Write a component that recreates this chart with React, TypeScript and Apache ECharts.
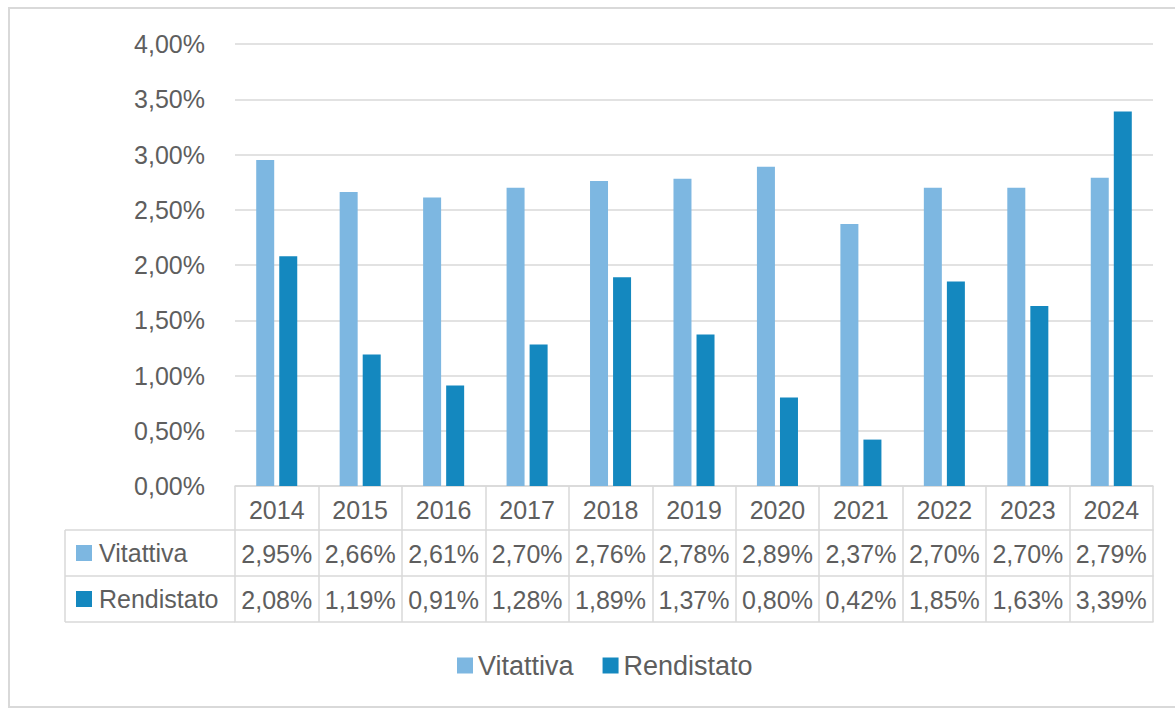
import React, { useEffect, useRef } from "react";
import * as echarts from "echarts";

const years = ["2014", "2015", "2016", "2017", "2018", "2019", "2020", "2021", "2022", "2023", "2024"];
const vitattiva = [2.95, 2.66, 2.61, 2.7, 2.76, 2.78, 2.89, 2.37, 2.7, 2.7, 2.79];
const rendistato = [2.08, 1.19, 0.91, 1.28, 1.89, 1.37, 0.8, 0.42, 1.85, 1.63, 3.39];
const seriesNames = ["Vitattiva", "Rendistato"];
const colors = ["#7DB7E1", "#1488BF"];

const FONT = "Liberation Sans, Arial, sans-serif";
const TEXT = "#5E5E5E";
const LINE = "#D9D9D9";

const fmt = (v: number) => v.toFixed(2).replace(".", ",") + "%";

export default function App() {
  const ref = useRef<HTMLDivElement>(null);
  useEffect(() => {
    if (!ref.current) return;
    const chart = echarts.init(ref.current, undefined, { renderer: "svg" });
    const W = 1175;
    const H = 711;
    const gridLeft = 235;
    const gridRight = 1153;
    const gridTop = 44;
    const gridBottom = 486;
    const rowH = 46;
    const tableLeft = 65;

    const tableAxis = (offset: number, labels: string[] | null, tickLen: number, showTick: boolean) => ({
      type: "category" as const,
      data: years,
      position: "bottom" as const,
      offset,
      axisLine: { show: true, lineStyle: { color: LINE, width: 1.5 } },
      axisTick: { show: showTick, alignWithLabel: false, length: tickLen, lineStyle: { color: LINE, width: 1.5 } },
      axisLabel: {
        show: labels !== null,
        interval: 0,
        margin: 11,
        color: TEXT,
        fontSize: 25,
        fontFamily: FONT,
        formatter: (_v: string, i: number) => (labels ? labels[i] : ""),
      },
      splitLine: { show: false },
    });

    const option = {
      animation: false,
      backgroundColor: "#ffffff",
      grid: {
        left: gridLeft,
        right: W - gridRight,
        top: gridTop,
        bottom: H - gridBottom,
        containLabel: false,
      },
      legend: {
        data: seriesNames,
        bottom: 27,
        left: 452,
        icon: "rect",
        itemWidth: 16,
        itemHeight: 16,
        itemGap: 29,
        textStyle: { color: TEXT, fontSize: 27, fontFamily: FONT },
      },
      xAxis: [
        tableAxis(0, years, rowH - 2, true),
        tableAxis(rowH - 2, vitattiva.map(fmt), rowH, true),
        tableAxis(2 * rowH - 2, rendistato.map(fmt), rowH, true),
        tableAxis(3 * rowH - 2, null, 0, false),
      ],
      yAxis: {
        type: "value",
        min: 0,
        max: 4,
        interval: 0.5,
        axisLine: { show: false },
        axisTick: { show: false },
        axisLabel: {
          margin: 30,
          color: TEXT,
          fontSize: 25,
          fontFamily: FONT,
          formatter: (v: number) => fmt(v),
        },
        splitLine: { lineStyle: { color: LINE, width: 1.5 } },
      },
      series: [
        {
          name: seriesNames[0],
          type: "bar",
          data: vitattiva,
          barWidth: 18,
          barGap: "28%",
          itemStyle: { color: colors[0] },
        },
        {
          name: seriesNames[1],
          type: "bar",
          data: rendistato,
          barWidth: 18,
          barGap: "28%",
          itemStyle: { color: colors[1] },
        },
      ],
      graphic: [
        {
          type: "rect",
          shape: { x: 9, y: 8, width: 1200, height: 699 },
          style: { fill: "none", stroke: LINE, lineWidth: 2 },
          silent: true,
        },
        {
          type: "line",
          shape: { x1: tableLeft, y1: gridBottom + rowH - 2, x2: tableLeft, y2: gridBottom + 3 * rowH - 2 },
          style: { stroke: LINE, lineWidth: 1.5 },
        },
        {
          type: "line",
          shape: { x1: tableLeft, y1: gridBottom + rowH - 2, x2: gridLeft, y2: gridBottom + rowH - 2 },
          style: { stroke: LINE, lineWidth: 1.5 },
        },
        {
          type: "line",
          shape: { x1: tableLeft, y1: gridBottom + 2 * rowH - 2, x2: gridLeft, y2: gridBottom + 2 * rowH - 2 },
          style: { stroke: LINE, lineWidth: 1.5 },
        },
        {
          type: "line",
          shape: { x1: tableLeft, y1: gridBottom + 3 * rowH - 2, x2: gridLeft, y2: gridBottom + 3 * rowH - 2 },
          style: { stroke: LINE, lineWidth: 1.5 },
        },
        ...seriesNames.flatMap((name, i) => {
          const cy = gridBottom + rowH - 2 + rowH * i + rowH / 2;
          return [
            {
              type: "rect",
              shape: { x: 76, y: cy - 8, width: 16, height: 16 },
              style: { fill: colors[i] },
            },
            {
              type: "text",
              x: 99,
              y: cy,
              style: {
                text: name,
                fill: TEXT,
                fontSize: 25,
                fontFamily: FONT,
                verticalAlign: "middle",
                align: "left",
              },
            },
          ];
        }),
      ],
    };
    chart.setOption(option as any);
    return () => chart.dispose();
  }, []);
  return (
    <div
      ref={ref}
      style={{ position: "fixed", left: 0, top: 0, width: 1175, height: 711, background: "#fff" }}
    />
  );
}
